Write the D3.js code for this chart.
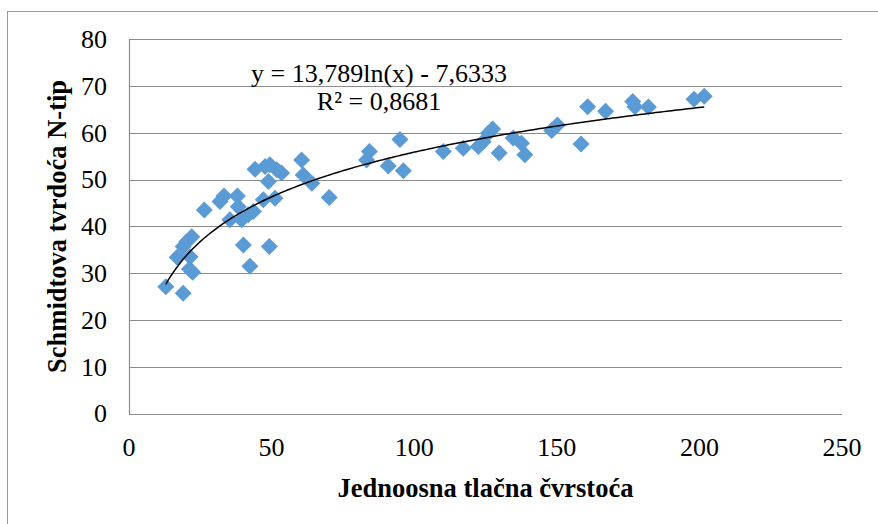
<!DOCTYPE html>
<html><head><meta charset="utf-8">
<script src="https://cdn.jsdelivr.net/npm/d3@7"></script>
<style>body{margin:0;background:#fff}svg{display:block}</style>
</head><body>
<svg id="c" width="878" height="524"></svg>
<script>
const xValues = [12.9,19.0,16.9,19.0,20.2,22.0,21.4,21.2,22.3,
  26.4,31.9,33.3,35.4,38.0,38.3,39.5,41.8,43.6,
  40.1,42.4,49.2,
  44.2,47.7,49.4,51.8,53.5,48.9,47.1,51.2,
  60.5,61.1,64.1,70.2,
  83.3,84.3,90.9,95.0,96.2,
  110.2,117.2,122.5,124.2,126.0,127.5,129.8,
  134.7,137.6,138.8,148.2,150.2,158.5,160.8,167.1,
  176.6,177.4,182.1,198.1,201.7];
const yValues = [27.1,25.7,33.4,35.7,36.7,37.8,33.5,30.9,30.2,
  43.5,45.3,46.5,41.4,46.5,44.2,41.4,42.5,43.2,
  36.0,31.5,35.7,
  52.2,52.8,53.2,52.1,51.4,49.6,45.7,46.0,
  54.2,51.0,49.2,46.2,
  54.2,56.0,52.9,58.6,51.9,
  56.0,56.7,57.1,58.1,59.9,60.8,55.7,
  58.9,57.8,55.3,60.5,61.7,57.6,65.6,64.6,
  66.7,65.6,65.5,67.2,67.8];
const xTicks = [0,50,100,150,200,250];
const yTicks = [0,10,20,30,40,50,60,70,80];
const trendCoef = [13.789, -7.6333];
const eqLines = ["y = 13,789ln(x) - 7,6333", "R² = 0,8681"];
const xTitle = "Jednoosna tlačna čvrstoća";
const yTitle = "Schmidtova tvrdoća N-tip";

const svg = d3.select("#c");
const L = 129, R = 842, T = 39.3, B = 413.5;
const x = d3.scaleLinear().domain([0,250]).range([L,R]);
const y = d3.scaleLinear().domain([0,80]).range([B,T]);
const grid = "#8c8c8c";
const font = "'Liberation Serif','Times New Roman',serif";

// outer border
svg.append("rect").attr("x",7.5).attr("y",11.5).attr("width",900).attr("height",600)
  .attr("fill","none").attr("stroke","#9a9a9a").attr("stroke-width",1);

// gridlines
svg.append("g").selectAll("line").data(yTicks).join("line")
  .attr("x1",L).attr("x2",R).attr("y1",d=>Math.round(y(d))+0.5).attr("y2",d=>Math.round(y(d))+0.5)
  .attr("stroke",grid).attr("stroke-width",1.2);
// y axis line
svg.append("line").attr("x1",L+0.5).attr("x2",L+0.5).attr("y1",Math.round(T)).attr("y2",Math.round(B)+1)
  .attr("stroke",grid).attr("stroke-width",1.2);

// tick labels
svg.append("g").selectAll("text").data(yTicks).join("text")
  .attr("x",107).attr("y",d=>y(d)+8.8).attr("text-anchor","end")
  .attr("font-family",font).attr("font-size",26).attr("fill","#000").text(d=>d);
svg.append("g").selectAll("text").data(xTicks).join("text")
  .attr("x",d=>x(d)).attr("y",456).attr("text-anchor","middle")
  .attr("font-family",font).attr("font-size",26).attr("fill","#000").text(d=>d);

// axis titles
svg.append("text").attr("x",(L+R)/2).attr("y",497).attr("text-anchor","middle")
  .attr("font-family",font).attr("font-size",26.5).attr("font-weight","bold").text(xTitle);
svg.append("text").attr("transform",`translate(66,${(T+B)/2}) rotate(-90)`).attr("text-anchor","middle")
  .attr("font-family",font).attr("font-size",26.5).attr("font-weight","bold").text(yTitle);

// markers
const pts = xValues.map((v,i)=>[v,yValues[i]]);
const r = 8.5;
svg.append("g").selectAll("path").data(pts).join("path")
  .attr("d",`M0,${-r}L${r},0L0,${r}L${-r},0Z`)
  .attr("transform",d=>`translate(${x(d[0])},${y(d[1])})`)
  .attr("fill","#5b9bd5");

// logarithmic trendline from fit coefficients
const xmin = d3.min(xValues), xmax = d3.max(xValues);
const tx = d3.range(0,201).map(i=>xmin + (xmax-xmin)*i/200);
svg.append("path").datum(tx)
  .attr("d", d3.line().x(d=>x(d)).y(d=>y(trendCoef[0]*Math.log(d)+trendCoef[1])))
  .attr("fill","none").attr("stroke","#000").attr("stroke-width",1.5);

// equation label
svg.append("g").selectAll("text").data(eqLines).join("text")
  .attr("x",379).attr("y",(d,i)=>82+i*28).attr("text-anchor","middle")
  .attr("font-family",font).attr("font-size",26).attr("fill","#000").text(d=>d);
</script>
</body></html>
